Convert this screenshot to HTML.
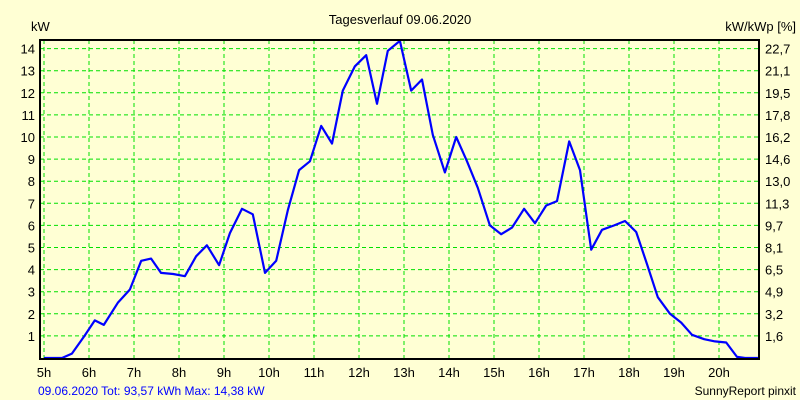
<!DOCTYPE html>
<html><head><meta charset="utf-8"><style>
html,body{margin:0;padding:0;background:#ffffd4;}
svg{display:block;font-family:"Liberation Sans",sans-serif;}
</style></head><body>
<svg id="chart" width="800" height="400" viewBox="0 0 800 400">
<rect x="0" y="0" width="800" height="400" fill="#ffffd4"/>
<text x="400" y="24" text-anchor="middle" font-size="13" fill="#000">Tagesverlauf 09.06.2020</text>
<text x="31" y="31" font-size="13" fill="#000">kW</text>
<text x="796" y="31" text-anchor="end" font-size="13" fill="#000">kW/kWp [%]</text>
<g id="grid"></g>
<g id="ticks"></g>
<polyline id="series" fill="none" stroke="#0000ff" stroke-width="2.2" stroke-linejoin="round"/>
<rect x="40" y="40" width="719" height="319" fill="none" stroke="#000" stroke-width="2"/>
<text x="38" y="395" font-size="12" fill="#0000ff">09.06.2020 Tot: 93,57 kWh Max: 14,38 kW</text>
<text x="796" y="395" text-anchor="end" font-size="12" fill="#000">SunnyReport pinxit</text>
</svg>
<script>
const hours = [5,5.4,5.62,5.9,6.13,6.33,6.64,6.91,7.16,7.38,7.6,7.87,8.13,8.38,8.62,8.89,9.13,9.4,9.64,9.91,10.16,10.42,10.67,10.91,11.16,11.4,11.64,11.91,12.16,12.4,12.64,12.91,13.16,13.4,13.64,13.91,14.16,14.4,14.64,14.91,15.16,15.4,15.67,15.91,16.16,16.4,16.67,16.91,17.16,17.4,17.67,17.91,18.16,18.4,18.64,18.91,19.16,19.4,19.67,19.91,20.16,20.4,20.58,20.89];
const powerKw = [0,0,0.2,1.0,1.7,1.5,2.5,3.1,4.4,4.5,3.85,3.8,3.7,4.6,5.1,4.2,5.65,6.75,6.5,3.85,4.4,6.7,8.5,8.9,10.5,9.7,12.1,13.2,13.7,11.5,13.9,14.35,12.1,12.6,10.1,8.4,10.0,8.9,7.7,6.0,5.6,5.9,6.75,6.1,6.9,7.1,9.8,8.5,4.9,5.8,6.0,6.2,5.7,4.25,2.75,2.0,1.6,1.05,0.85,0.75,0.7,0.05,0,0];
const leftTicks = [1,2,3,4,5,6,7,8,9,10,11,12,13,14];
const rightTickLabels = ["1,6","3,2","4,9","6,5","8,1","9,7","11,3","13,0","14,6","16,2","17,8","19,5","21,1","22,7"];
const hourTicks = [5,6,7,8,9,10,11,12,13,14,15,16,17,18,19,20];

const X0=44, XS=45, Y0=358, YS=22.1;
function xPos(h){return X0+(h-5)*XS;}
function yPos(v){return Y0-v*YS;}
const NS="http://www.w3.org/2000/svg";
const grid=document.getElementById('grid'), ticks=document.getElementById('ticks');
function mk(tag,attrs,parent){const e=document.createElementNS(NS,tag);for(const k in attrs)e.setAttribute(k,attrs[k]);parent.appendChild(e);return e;}
leftTicks.forEach((v,i)=>{
  const y=yPos(v);
  const l=mk('line',{x1:40,x2:759,y1:y,y2:y,stroke:'#00e000','stroke-width':1,'stroke-dasharray':'4,3'},grid);
  
  
  const t=mk('text',{x:35,y:y+5,'text-anchor':'end','font-size':13,fill:'#000'},ticks);
  t.textContent=v;
  
  
  const r=mk('text',{x:765,y:y+5,'font-size':13,fill:'#000'},ticks);
  r.textContent=rightTickLabels[i];
  
  
});
hourTicks.forEach(h=>{
  const x=xPos(h);
  const l=mk('line',{x1:x,x2:x,y1:40,y2:359,stroke:'#00e000','stroke-width':1,'stroke-dasharray':'4,3'},grid);
  
  
  const t=mk('text',{x:x,y:377,'text-anchor':'middle','font-size':13,fill:'#000'},ticks);
  t.textContent=h+'h';
  
  
});
document.getElementById('series').setAttribute('points',hours.map((h,i)=>xPos(h).toFixed(1)+','+yPos(powerKw[i]).toFixed(1)).join(' '));
</script>
</body></html>
